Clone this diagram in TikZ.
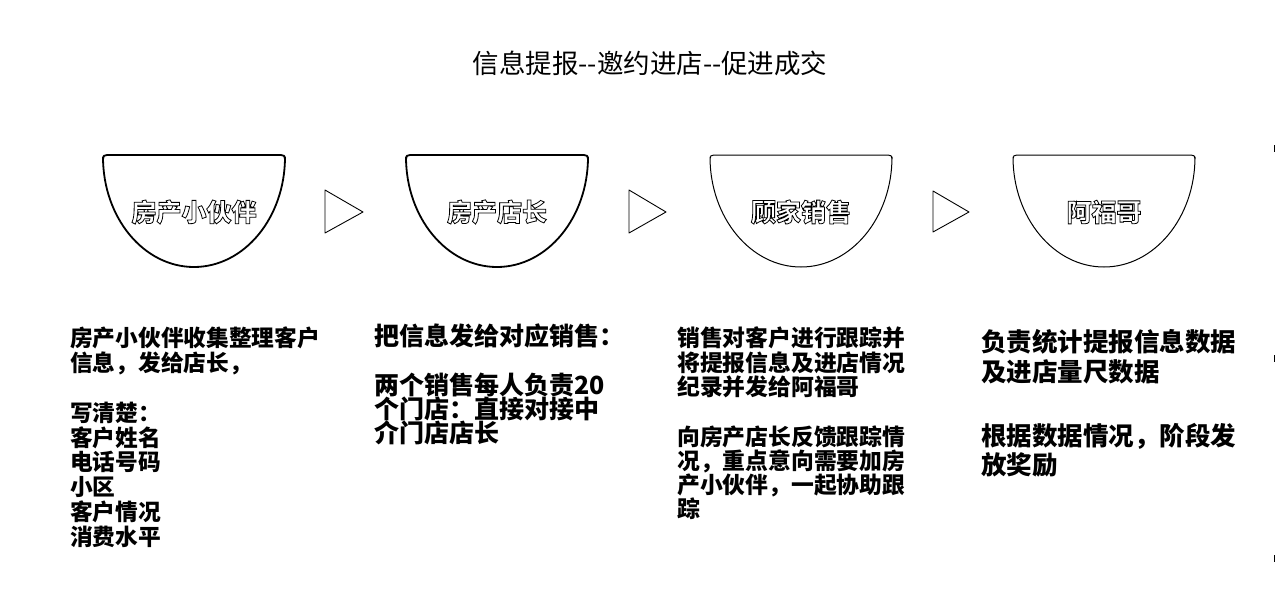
\documentclass[tikz,border=0pt]{standalone}
\usepackage{fontspec}
\setmainfont{Noto Sans CJK SC}
\newcommand\outlinetext[1]{\textcolor{white}{\special{pdf:literal direct 2 Tr 0.8 w 0 G}#1\special{pdf:literal direct 0 Tr}}}
\begin{document}
\begin{tikzpicture}[x=1pt,y=-1pt,
  half/.style={draw=black,line width=#1,line join=round},
  tri/.style={draw=black,line width=0.9pt,line join=round},
  lab/.style={inner sep=0pt,font=\fontsize{25}{28}\selectfont\bfseries},
  c1/.style={anchor=west,inner sep=0pt,font=\fontsize{22.7}{24}\selectfont\bfseries},
  c2/.style={anchor=west,inner sep=0pt,font=\fontsize{25}{26}\selectfont\bfseries},
  c3/.style={anchor=west,inner sep=0pt,font=\fontsize{22.8}{26}\selectfont\bfseries},
  c4/.style={anchor=west,inner sep=0pt,font=\fontsize{25.5}{28}\selectfont\bfseries},
  tick/.style={draw=black,line width=1pt}]
\useasboundingbox (0,0) rectangle (1280,589);
% title
\node[inner sep=0pt,font=\fontsize{26.5}{28}\selectfont] (title) at (650,63) {信息提报-{}-邀约进店-{}-促进成交};
% half ellipses
\foreach \cx/\w in {194/1.8pt,497/1.8pt,801/1pt,1104/1pt}
  \draw[half=\w] (\cx-91,159) .. controls (\cx-91,156) and (\cx-90,155) .. (\cx-87,155)
     -- (\cx+87,155) .. controls (\cx+90,155) and (\cx+91,156) .. (\cx+91,159)
     -- (\cx+91,157) arc[start angle=0,end angle=-180,x radius=91pt,y radius=110pt] -- cycle;
% labels
\node[lab] (l1) at (194,212) {\outlinetext{房产小伙伴}};
\node[lab] (l2) at (497,212) {\outlinetext{房产店长}};
\node[lab] (l3) at (801,212) {\outlinetext{顾家销售}};
\node[lab] (l4) at (1104,212) {\outlinetext{阿福哥}};
% triangles
\draw[tri] (325,190) -- (325,233) -- (363,212) -- cycle;
\draw[tri] (629,190) -- (629,233) -- (666,212) -- cycle;
\draw[tri] (933,191) -- (933,232) -- (969,212) -- cycle;
% column 1
\foreach \y/\t [count=\i] in {338/房产小伙伴收集整理客户,363/信息，发给店长，,413/写清楚：,438/客户姓名,462/电话号码,487/小区,512/客户情况,537/消费水平}
  \node[c1] (a\i) at (70,\y) {\t};
% column 2
\foreach \y/\t [count=\i] in {336/把信息发给对应销售：,385/两个销售每人负责20,409/个门店：直接对接中,433/介门店店长}
  \node[c2] (b\i) at (374,\y) {\t};
% column 3
\foreach \y/\t [count=\i] in {338/销售对客户进行跟踪并,363/将提报信息及进店情况,387/纪录并发给阿福哥,437/向房产店长反馈跟踪情,461/况，重点意向需要加房,485/产小伙伴，一起协助跟,509/踪}
  \node[c3] (d\i) at (677,\y) {\t};
% column 4
\foreach \y/\t [count=\i] in {342/负责统计提报信息数据,372/及进店量尺数据,436/根据数据情况，阶段发,465/放奖励}
  \node[c4] (e\i) at (981,\y) {\t};
% right edge ticks
\draw[tick] (1274,145) -- (1274,152);
\draw[tick] (1274,355) -- (1274,362);
\draw[tick] (1274,555) -- (1274,562);
\end{tikzpicture}
\end{document}
